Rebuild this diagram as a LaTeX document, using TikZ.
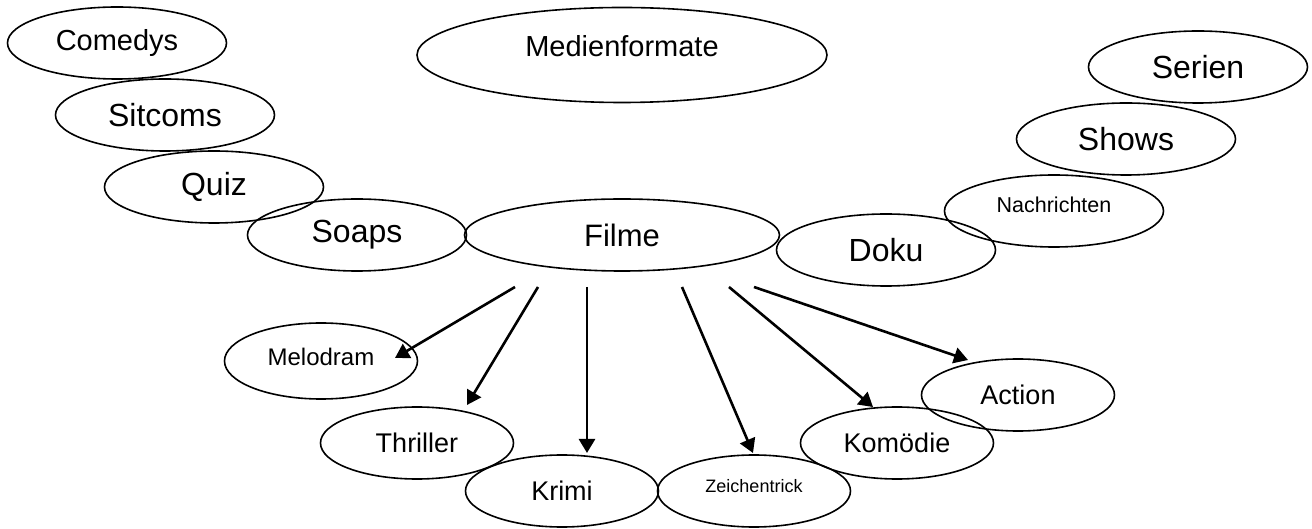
\documentclass[tikz,border=0pt]{standalone}
\usepackage{fontspec}
\setmainfont{Liberation Sans}
\usepackage{tikz}
\usetikzlibrary{arrows.meta, positioning, shapes.geometric}

\begin{document}
\begin{tikzpicture}[on grid,auto]
    \tikzstyle{oval}=[shape=ellipse,draw,line width=0.8pt,inner sep=2pt]
    \tikzstyle{ovalwide}=[oval,minimum width=109.5pt,minimum height=36pt]
    \tikzstyle{ovalgenre}=[oval,minimum width=96.5pt,minimum height=36pt]
    \tikzstyle{fontL}=[font=\fontsize{16pt}{19pt}\selectfont]
    \tikzstyle{fontM}=[font=\fontsize{13.5pt}{16pt}\selectfont]
    \tikzstyle{fontXS}=[font=\fontsize{9pt}{11pt}\selectfont]

    \useasboundingbox (-311pt,-147pt) rectangle (345pt,117.5pt);

    \node[oval,minimum width=157.5pt,minimum height=36pt,font=\fontsize{15.5pt}{18pt}\selectfont] (filme) {Filme};
    \node[oval,minimum width=205pt,minimum height=47.5pt,font=\fontsize{14.5pt}{17pt}\selectfont,text depth=9pt,above=90pt of filme] (medien) {Medienformate};

    \node[ovalwide,fontL,left=132.5pt of filme] (soaps) {Soaps};
    \node[ovalwide,fontL,above left=24pt and 71.5pt of soaps] (quiz) {Quiz};
    \node[ovalwide,fontL,above left=36pt and 24.5pt of quiz] (sitcoms) {Sitcoms};
    \node[ovalwide,font=\fontsize{14.5pt}{17pt}\selectfont,above left=36pt and 24pt of sitcoms] (comedys) {Comedys};

    \node[ovalwide,fontL,below right=7.5pt and 132pt of filme] (doku) {Doku};
    \node[ovalwide,font=\fontsize{10.75pt}{13pt}\selectfont,text depth=6pt,above right=19.5pt and 84pt of doku] (nachr) {Nachrichten};
    \node[ovalwide,fontL,above right=36pt and 36pt of nachr] (shows) {Shows};
    \node[ovalwide,fontL,above right=36pt and 36pt of shows] (serien) {Serien};

    \node[ovalgenre,font=\fontsize{12pt}{14pt}\selectfont,minimum height=38pt,text depth=4pt,below left=63pt and 150.5pt of filme] (melodram) {Melodram};
    \node[ovalgenre,fontM,below right=41pt and 48pt of melodram] (thriller) {Thriller};
    \node[ovalgenre,fontM,below right=24pt and 72.5pt of thriller] (krimi) {Krimi};
    \node[ovalgenre,fontXS,text depth=5pt,right=96pt of krimi] (zeichen) {Zeichentrick};
    \node[ovalgenre,fontM,above right=24pt and 71.5pt of zeichen] (komoedie) {Komödie};
    \node[ovalgenre,fontM,above right=24pt and 60.5pt of komoedie] (action) {Action};

    \coordinate[below left=26pt and 53.5pt of filme] (f1);
    \coordinate[below left=26pt and 42pt of filme] (f2);
    \coordinate[below left=26pt and 17.5pt of filme] (f3);
    \coordinate[below right=26pt and 30pt of filme] (f4);
    \coordinate[below right=26pt and 53.5pt of filme] (f5);
    \coordinate[below right=26pt and 66pt of filme] (f6);

    \path[-{Triangle[length=7pt,width=8pt]},line width=1.3pt]
    (f1) edge ([xshift=37pt,yshift=1.5pt]melodram.center)
    (f2) edge ([xshift=25pt,yshift=19pt]thriller.center)
    (f3) edge ([xshift=12.5pt,yshift=19pt]krimi.center)
    (f4) edge ([xshift=-0.5pt,yshift=19pt]zeichen.center)
    (f5) edge ([xshift=-12pt,yshift=18pt]komoedie.center)
    (f6) edge ([xshift=-25pt,yshift=17.5pt]action.center)
   ;

\end{tikzpicture}
\end{document}
